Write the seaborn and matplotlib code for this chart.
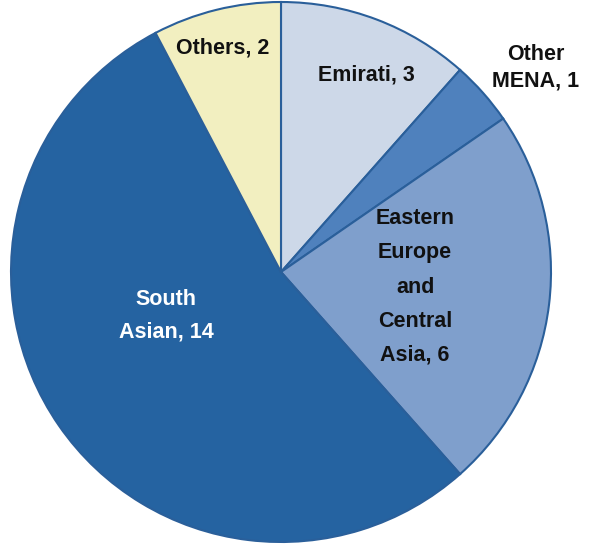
import numpy as np
import matplotlib
matplotlib.use("Agg")
import matplotlib.pyplot as plt
import seaborn as sns

# datos del grafico
categorias = ["Emirati", "Other\nMENA", "Eastern\nEurope\nand\nCentral\nAsia", "South\nAsian", "Others"]
valores = [3, 1, 6, 14, 2]
colores = ["#cdd8e8", "#4f81bd", "#7f9fcc", "#2563a1", "#f2efc0"]
color_texto = ["#111111", "#111111", "#111111", "#ffffff", "#111111"]

# posicion de etiquetas (radio, angulo) y espaciado de lineas
pos_etiquetas = [(0.795, 66.7), (1.21, 38.7), (0.50, -6.4), (0.456, 200.9), (0.857, 104.5)]
interlineado = [1.0, 1.32, 1.82, 1.72, 1.0]

sns.set_theme(style="white")
plt.rcParams["font.family"] = ["Liberation Sans", "DejaVu Sans"]

fig = plt.figure(figsize=(5.93, 5.55), dpi=100)
ax = fig.add_axes([11 / 593, 13 / 555, 540 / 593, 540 / 555])

ax.pie(valores, colors=colores, startangle=90, counterclock=False,
       wedgeprops=dict(edgecolor="#2a5f9a", linewidth=1.5))
ax.set_xlim(-1, 1)
ax.set_ylim(-1, 1)
ax.set_aspect("auto")
ax.axis("off")

for cat, val, c, (r, ang), ls in zip(categorias, valores, color_texto, pos_etiquetas, interlineado):
    x = r * np.cos(np.radians(ang))
    y = r * np.sin(np.radians(ang))
    ax.text(x, y, f"{cat}, {val}", ha="center", va="center", fontsize=15.5,
            fontweight="bold", color=c, linespacing=ls, multialignment="center")

fig.savefig("out.png", dpi=100)
